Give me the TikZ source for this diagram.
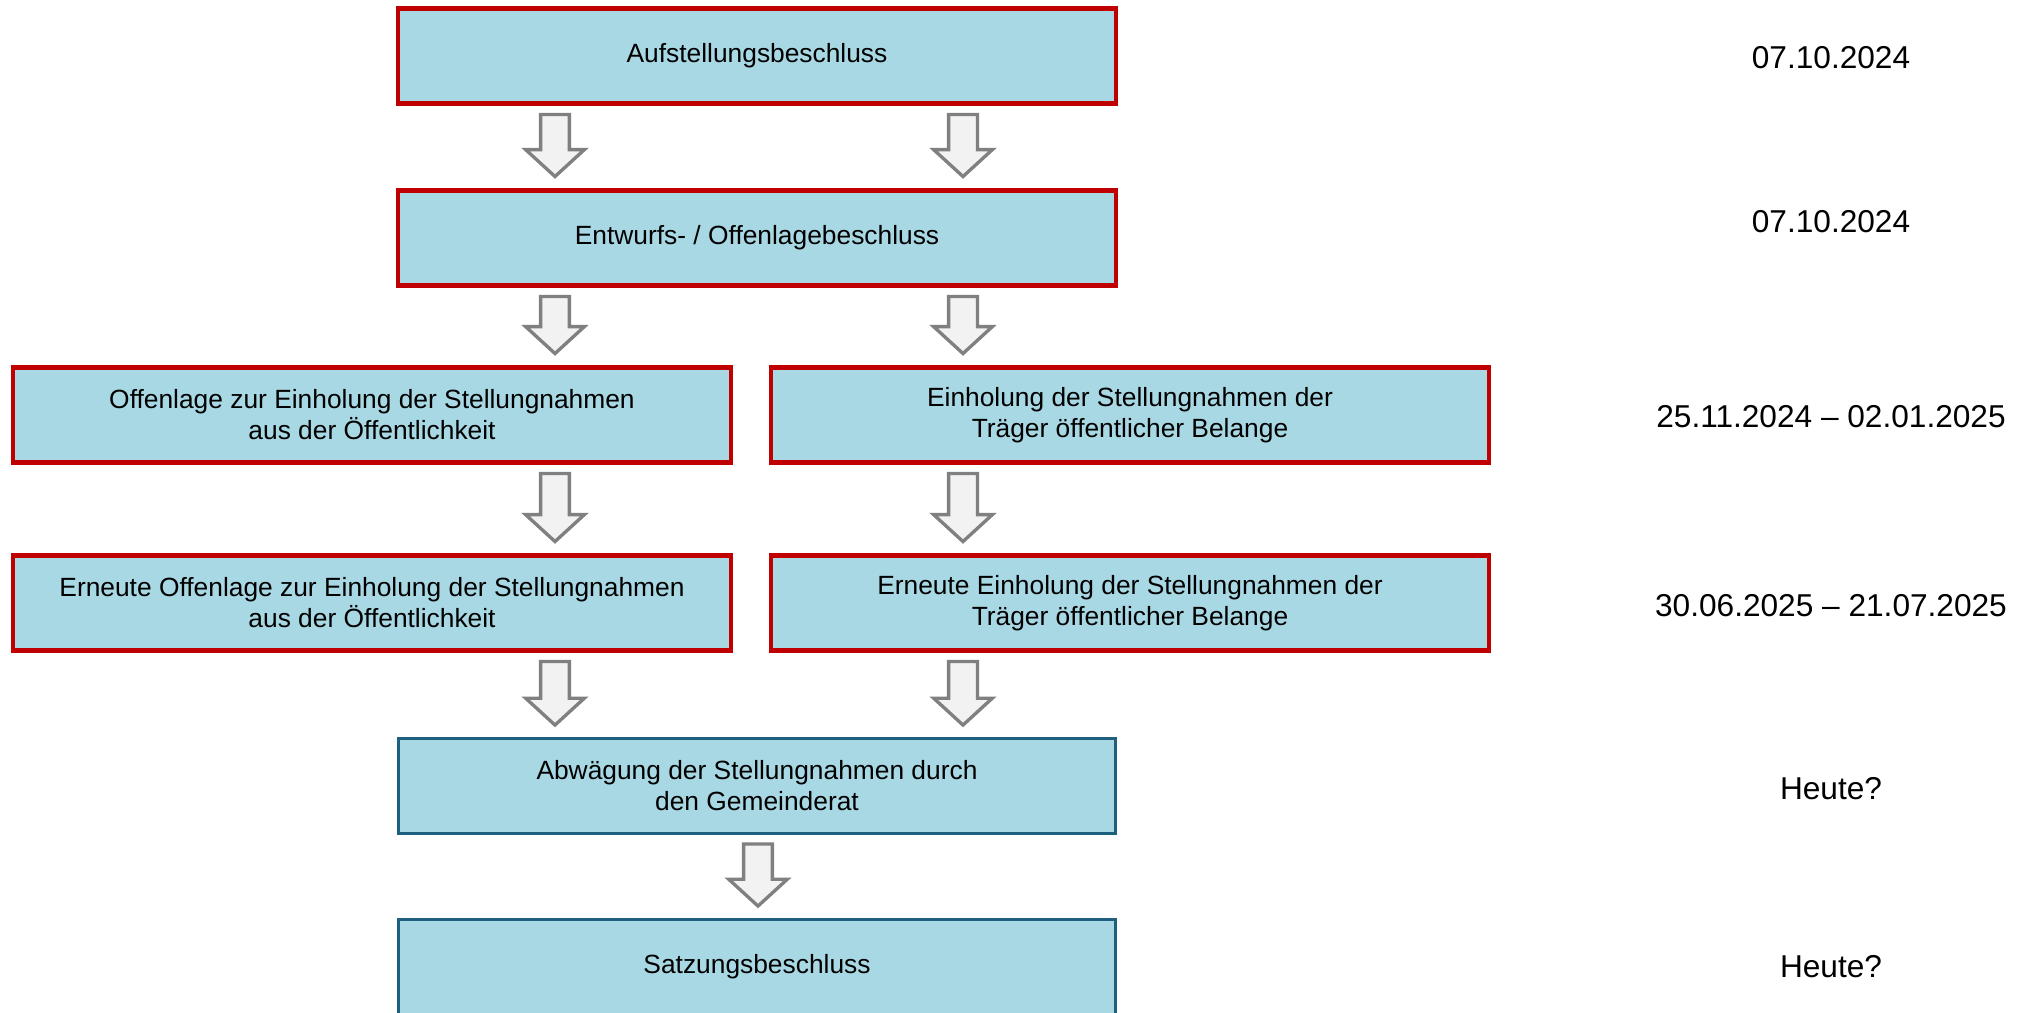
\documentclass[tikz,border=0pt]{standalone}
\usepackage{fontspec}
\setmainfont{Liberation Sans}
\usetikzlibrary{calc}

\definecolor{boxfill}{RGB}{168,216,228}
\definecolor{boxred}{RGB}{192,0,0}
\definecolor{boxblue}{RGB}{31,95,128}
\definecolor{arrowfill}{RGB}{242,242,242}
\definecolor{arrowgray}{RGB}{128,128,128}

\tikzset{
  stepbox/.style={draw=boxred, fill=boxfill, line width=2.3pt,
    minimum width=14.36cm, minimum height=1.9cm, align=center,
    font=\fontsize{15}{17.6}\selectfont},
  finalbox/.style={stepbox, draw=boxblue, line width=1.7pt},
  datelabel/.style={font=\fontsize{18}{21.6}\selectfont},
  blockarrow/.style={draw=arrowgray, fill=arrowfill, line width=1.9pt, line join=miter}
}

% block arrow from box #1 to box #2 in column #3
\newcommand{\flowarrow}[3]{%
  \draw[blockarrow] let \p1=(#1.south -| #3), \p2=(#2.north -| #3) in
    (\x1-8.2pt,\y1-5.1pt) -- (\x1+8.2pt,\y1-5.1pt) -- (\x1+8.2pt,\y2+22.1pt)
    -- (\x1+16.7pt,\y2+22.1pt) -- (\x1,\y2+6.8pt) -- (\x1-16.7pt,\y2+22.1pt)
    -- (\x1-8.2pt,\y2+22.1pt) -- cycle;}

\begin{document}
\begin{tikzpicture}[x=0.02cm, y=-0.02cm]
\useasboundingbox (0,0) rectangle (2038,1013);

\coordinate (colL) at (555,0);
\coordinate (colR) at (963,0);
\coordinate (colM) at (758,0);

% steps
\node[stepbox] (auf)   at (757,56)   {Aufstellungsbeschluss};
\node[stepbox] (entw)  at (757,238)  {Entwurfs- / Offenlagebeschluss};
\node[stepbox] (off)   at (372,415)  {Offenlage zur Einholung der Stellungnahmen\\aus der Öffentlichkeit};
\node[stepbox] (toeb)  at (1130,415) {Einholung der Stellungnahmen der\\Träger öffentlicher Belange};
\node[stepbox] (eoff)  at (372,603)  {Erneute Offenlage zur Einholung der Stellungnahmen\\aus der Öffentlichkeit};
\node[stepbox] (etoeb) at (1130,603) {Erneute Einholung der Stellungnahmen der\\Träger öffentlicher Belange};
\node[finalbox] (abw)  at (757,786)  {Abwägung der Stellungnahmen durch\\den Gemeinderat};
\node[finalbox] (satz) at (757,967)  {Satzungsbeschluss};

% dates
\node[datelabel] (date1) at (1831,58)  {07.10.2024};
\node[datelabel] (date2) at (1831,222) {07.10.2024};
\node[datelabel] (date3) at (1831,417) {25.11.2024 – 02.01.2025};
\node[datelabel] (date4) at (1831,606) {30.06.2025 – 21.07.2025};
\node[datelabel] (date5) at (1831,789) {Heute?};
\node[datelabel] (date6) at (1831,967) {Heute?};

% arrows
\flowarrow{auf}{entw}{colL}
\flowarrow{auf}{entw}{colR}
\flowarrow{entw}{off}{colL}
\flowarrow{entw}{toeb}{colR}
\flowarrow{off}{eoff}{colL}
\flowarrow{toeb}{etoeb}{colR}
\flowarrow{eoff}{abw}{colL}
\flowarrow{etoeb}{abw}{colR}
\flowarrow{abw}{satz}{colM}
\end{tikzpicture}
\end{document}
